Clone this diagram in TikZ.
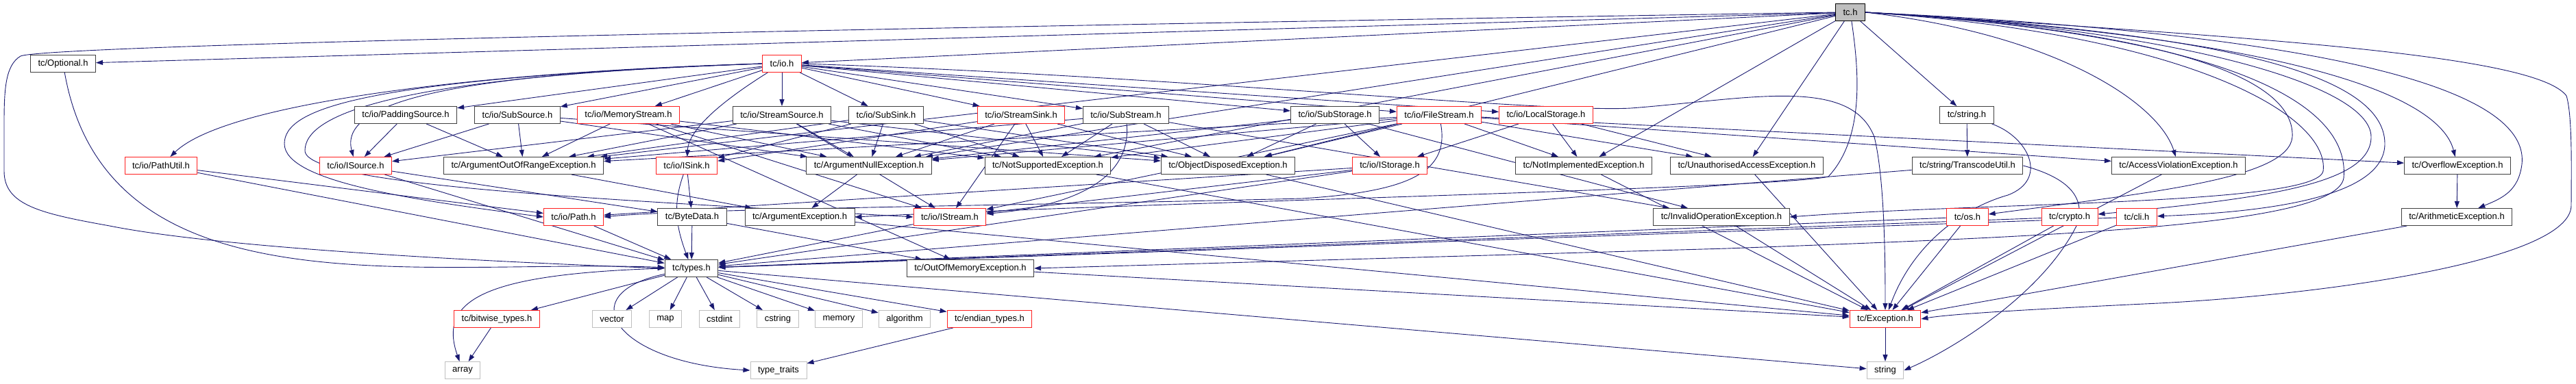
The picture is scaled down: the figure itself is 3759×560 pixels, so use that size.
\documentclass[tikz,border=0pt]{standalone}
\usepackage{fontspec}
\setmainfont{Liberation Sans}
\usetikzlibrary{arrows.meta,backgrounds}
\definecolor{edgeblue}{HTML}{191970}
\definecolor{boxred}{HTML}{FF2020}
\definecolor{boxgray}{HTML}{404040}
\definecolor{sysgray}{HTML}{BFBFBF}

\begin{document}
\begin{tikzpicture}[x=1pt,y=-1pt,inner xsep=11pt,inner ysep=0pt,
  hdr/.style={draw=boxgray,line width=1pt,fill=white,minimum height=25pt,font=\fontsize{13}{15}\selectfont},
  trunc/.style={hdr,draw=boxred},
  sys/.style={hdr,draw=sysgray},
  root/.style={hdr,fill=sysgray,draw=black},
  dep/.style={draw=edgeblue,line width=0.9pt,-{Triangle[length=10pt,width=7pt]}}]
\useasboundingbox (0,0) rectangle (3759,560);

% row 0 and 1
\node[root] (tch) at (2700,18) {tc.h};
\node[hdr] (opt) at (92,93) {tc/Optional.h};
\node[trunc] (io) at (1141,93) {tc/io.h};

% row 2
\node[hdr] (pads) at (592,168) {tc/io/PaddingSource.h};
\node[hdr] (subsrc) at (755,168) {tc/io/SubSource.h};
\node[trunc] (memst) at (917,168) {tc/io/MemoryStream.h};
\node[hdr] (stsrc) at (1141,168) {tc/io/StreamSource.h};
\node[hdr] (subsnk) at (1293,168) {tc/io/SubSink.h};
\node[trunc] (stsnk) at (1490,168) {tc/io/StreamSink.h};
\node[hdr] (subst) at (1643,168) {tc/io/SubStream.h};
\node[hdr] (substor) at (1948,168) {tc/io/SubStorage.h};
\node[trunc] (filest) at (2100,168) {tc/io/FileStream.h};
\node[trunc] (locstor) at (2256,168) {tc/io/LocalStorage.h};
\node[hdr] (str) at (2870,168) {tc/string.h};

% row 3
\node[trunc] (putil) at (235,242) {tc/io/PathUtil.h};
\node[trunc] (isrc) at (519,242) {tc/io/ISource.h};
\node[hdr] (aoor) at (764,242) {tc/ArgumentOutOfRangeException.h};
\node[trunc] (isnk) at (1002,242) {tc/io/ISink.h};
\node[hdr] (anull) at (1268,242) {tc/ArgumentNullException.h};
\node[hdr] (nsup) at (1529,242) {tc/NotSupportedException.h};
\node[hdr] (odisp) at (1792,242) {tc/ObjectDisposedException.h};
\node[trunc] (istor) at (2028,242) {tc/io/IStorage.h};
\node[hdr] (nimpl) at (2311,242) {tc/NotImplementedException.h};
\node[hdr] (unauth) at (2549,242) {tc/UnauthorisedAccessException.h};
\node[hdr] (transc) at (2871,242) {tc/string/TranscodeUtil.h};
\node[hdr] (accv) at (3179,242) {tc/AccessViolationException.h};
\node[hdr] (ovfl) at (3586,242) {tc/OverflowException.h};

% row 4
\node[trunc] (path) at (837,317) {tc/io/Path.h};
\node[hdr] (bdata) at (1010,317) {tc/ByteData.h};
\node[hdr] (argex) at (1167,317) {tc/ArgumentException.h};
\node[trunc] (istrm) at (1386,317) {tc/io/IStream.h};
\node[hdr] (invop) at (2512,317) {tc/InvalidOperationException.h};
\node[trunc] (os) at (2871,317) {tc/os.h};
\node[trunc] (crypto) at (3020,317) {tc/crypto.h};
\node[trunc] (cli) at (3118,317) {tc/cli.h};
\node[hdr] (arith) at (3585,317) {tc/ArithmeticException.h};

% row 5 to 7
\node[hdr] (types) at (1009,392) {tc/types.h};
\node[hdr] (oom) at (1416,392) {tc/OutOfMemoryException.h};
\node[trunc] (bitw) at (725,466) {tc/bitwise\_types.h};
\node[sys] (vector) at (893,466) {vector};
\node[sys] (map) at (971,466) {map};
\node[sys] (cstdint) at (1050,466) {cstdint};
\node[sys] (cstring) at (1135,466) {cstring};
\node[sys] (memory) at (1224,466) {memory};
\node[sys] (algorithm) at (1320,466) {algorithm};
\node[trunc] (endian) at (1444,466) {tc/endian\_types.h};
\node[trunc] (exc) at (2751,466) {tc/Exception.h};
\node[sys] (array) at (675,541) {array};
\node[sys] (ttraits) at (1136,541) {type\_traits};
\node[sys] (string) at (2751,541) {string};

\begin{pgfonlayer}{background}
% tc.h
\path (tch) edge[dep] (opt);
\path (tch) edge[dep] (io);
\path (tch) edge[dep] (str);
\path (tch) edge[dep] (unauth);
\path (tch) edge[dep] (nimpl);
\path (tch) edge[dep] (odisp);
\path (tch) edge[dep] (nsup);
\path (tch) edge[dep] (anull);
\path (tch) edge[dep] (aoor);
\draw[dep] (tch.west) .. controls (1000,45) and (60,68) .. (30,82) .. controls (8,95) and (6,130) .. (6,180) -- (6,250) .. controls (6,300) and (60,312) .. (160,330) .. controls (320,362) and (700,382) .. (types.west);
\draw[dep] (tch) .. controls (2712,100) and (2722,200) .. (2668,258) .. controls (2600,275) and (1700,295) .. (argex.east);
\draw[dep] (tch.east) .. controls (3000,50) and (3150,150) .. (accv);
\draw[dep] (tch.east) .. controls (3350,55) and (3560,140) .. (ovfl);
\draw[dep] (tch.east) .. controls (3500,55) and (3690,150) .. (3680,240) .. controls (3675,280) and (3650,290) .. (arith);
\draw[dep] (tch.east) .. controls (3300,55) and (3700,80) .. (3745,140) .. controls (3754,170) and (3752,250) .. (3752,300) .. controls (3752,380) and (3400,430) .. (3150,443) .. controls (3000,450) and (2850,458) .. (exc.east);
\draw[dep] (tch.east) .. controls (3100,40) and (3350,100) .. (3345,200) .. controls (3340,260) and (3150,280) .. (os);
\draw[dep] (tch.east) .. controls (3150,40) and (3460,120) .. (3460,200) .. controls (3460,270) and (3300,290) .. (crypto);
\draw[dep] (tch.east) .. controls (3200,45) and (3480,100) .. (3480,210) .. controls (3480,290) and (3300,310) .. (cli);
\draw[dep] (tch.east) .. controls (3250,50) and (3430,150) .. (3420,260) .. controls (3410,330) and (3000,345) .. (2520,363) -- (oom.east);
\draw[dep] (tch.east) .. controls (3200,50) and (3400,170) .. (3390,250) .. controls (3380,300) and (2900,295) .. (invop.east);

% tc/io.h
\path (io) edge[dep] (pads);
\path (io) edge[dep] (subsrc);
\path (io) edge[dep] (memst);
\path (io) edge[dep] (stsrc);
\path (io) edge[dep] (subsnk);
\path (io) edge[dep] (stsnk);
\path (io) edge[dep] (subst);
\path (io) edge[dep] (substor);
\path (io) edge[dep] (filest);
\path (io) edge[dep] (locstor);
\draw[dep] (io.west) .. controls (700,105) and (330,150) .. (putil);
\draw[dep] (io.west) .. controls (650,108) and (495,150) .. (isrc);
\draw[dep] (io.west) .. controls (520,115) and (415,160) .. (415,210) .. controls (415,265) and (600,292) .. (path.west);
\draw[dep] (io.west) .. controls (560,112) and (445,170) .. (445,220) .. controls (445,272) and (900,292) .. (istrm.west);
\draw[dep] (io) .. controls (1050,150) and (1005,190) .. (isnk);
\draw[dep] (io.east) .. controls (1700,110) and (2250,165) .. (2380,158) .. controls (2550,145) and (2700,110) .. (2735,200) .. controls (2750,260) and (2751,380) .. (exc);

% sources, sinks and streams
\path (pads) edge[dep] (isrc);
\path (pads) edge[dep] (aoor);
\path (subsrc) edge[dep] (isrc);
\path (subsrc) edge[dep] (aoor);
\path (subsrc) edge[dep] (anull);
\path (subsrc) edge[dep] (odisp);
\path (memst) edge[dep] (aoor);
\path (memst) edge[dep] (anull);
\path (memst) edge[dep] (nsup);
\path (memst) edge[dep] (istrm);
\path (memst) edge[dep] (oom);
\path (stsrc) edge[dep] (isrc);
\path (stsrc) edge[dep] (istrm);
\path (stsrc) edge[dep] (aoor);
\path (stsrc) edge[dep] (anull);
\path (stsrc) edge[dep] (nsup);
\path (stsrc) edge[dep] (odisp);
\path (subsnk) edge[dep] (isnk);
\path (subsnk) edge[dep] (aoor);
\path (subsnk) edge[dep] (anull);
\path (subsnk) edge[dep] (nsup);
\path (subsnk) edge[dep] (odisp);
\path (stsnk) edge[dep] (isnk);
\path (stsnk) edge[dep] (istrm);
\path (stsnk) edge[dep] (anull);
\path (stsnk) edge[dep] (nsup);
\path (stsnk) edge[dep] (odisp);
\path (subst) edge[dep,out=-85,in=5] (istrm);
\path (subst) edge[dep] (aoor);
\path (subst) edge[dep] (anull);
\path (subst) edge[dep] (nsup);
\path (subst) edge[dep] (odisp);
\path (subst) edge[dep] (invop);

% storage
\path (substor) edge[dep] (istor);
\path (substor) edge[dep] (odisp);
\path (substor) edge[dep] (anull);
\path (substor) edge[dep] (invop);
\path (filest) edge[dep] (istrm);
\draw[dep] (filest) .. controls (2115,250) and (2060,280) .. (1900,290) .. controls (1500,300) and (1000,305) .. (path.east);
\path (filest) edge[dep] (anull);
\path (filest) edge[dep] (aoor);
\path (filest) edge[dep] (nsup);
\path (filest) edge[dep] (odisp);
\path (filest) edge[dep] (nimpl);
\path (filest) edge[dep] (unauth);
\path (filest) edge[dep] (accv);
\path (filest) edge[dep] (ovfl);
\path (locstor) edge[dep] (istor);
\path (locstor) edge[dep] (unauth);
\path (locstor) edge[dep] (nimpl);

% string
\path (str) edge[dep] (transc);
\draw[dep] (str) .. controls (2960,200) and (2990,262) .. (2930,285) .. controls (2860,305) and (2790,360) .. (exc);
\path (transc) edge[dep] (types);
\draw[dep] (transc.east) .. controls (3020,260) and (3045,290) .. (3030,330) .. controls (2980,430) and (2850,510) .. (string.east);

% row 3 and 4
\path (putil) edge[dep] (path);
\path (putil) edge[dep] (types);
\path (isrc) edge[dep] (bdata);
\path (isrc) edge[dep] (types);
\path (aoor) edge[dep] (argex);
\path (isnk) edge[dep] (bdata);
\path (isnk) edge[dep,out=-110,in=110] (types);
\path (anull) edge[dep] (argex);
\path (nsup) edge[dep] (exc);
\path (odisp) edge[dep] (exc);
\path (istor) edge[dep] (path);
\path (istor) edge[dep] (istrm);
\path (istor) edge[dep] (types);
\path (nimpl) edge[dep] (exc);
\path (unauth) edge[dep] (exc);
\path (accv) edge[dep] (exc);
\path (ovfl) edge[dep] (arith);
\path (path) edge[dep] (types);
\path (bdata) edge[dep] (types);
\path (bdata) edge[dep] (oom);
\path (argex) edge[dep] (exc);
\path (istrm) edge[dep] (types);
\path (invop) edge[dep] (exc);
\path (os) edge[dep] (exc);
\path (os) edge[dep] (types);
\path (crypto) edge[dep] (exc);
\path (crypto) edge[dep] (types);
\path (cli) edge[dep] (exc);
\path (cli) edge[dep] (types);
\path (arith) edge[dep] (exc);
\path (oom) edge[dep] (exc);
\path (opt) edge[dep,out=-80,in=178] (types);

% tc/types.h
\path (types) edge[dep] (bitw);
\path (types) edge[dep] (vector);
\path (types) edge[dep] (map);
\path (types) edge[dep] (cstdint);
\path (types) edge[dep] (cstring);
\path (types) edge[dep] (memory);
\path (types) edge[dep] (algorithm);
\path (types) edge[dep] (endian);
\path (types) edge[dep] (string);
\draw[dep] (types.west) .. controls (700,400) and (640,440) .. (array);
\draw[dep] (types) .. controls (830,430) and (900,530) .. (ttraits.west);
\path (bitw) edge[dep] (array);
\path (endian) edge[dep] (ttraits);
\path (exc) edge[dep] (string);
\end{pgfonlayer}

\end{tikzpicture}
\end{document}
